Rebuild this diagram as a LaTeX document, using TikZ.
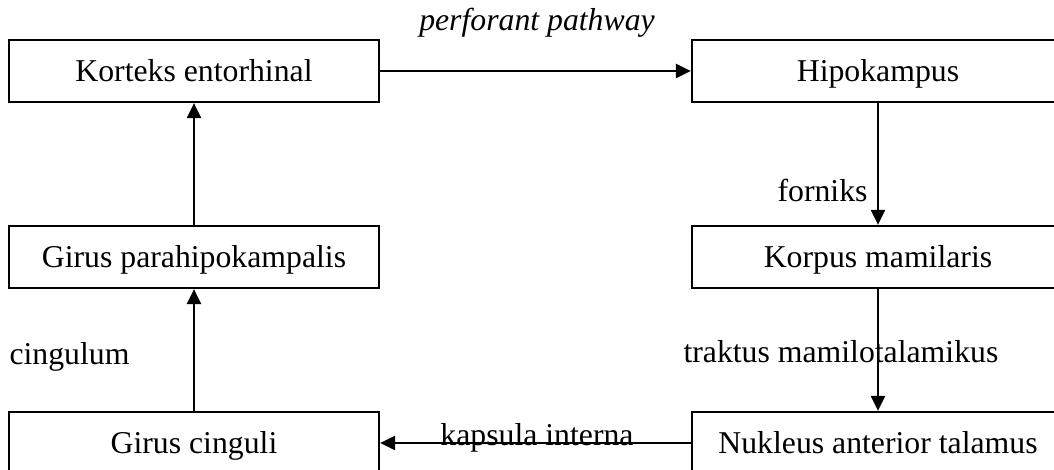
\documentclass[tikz,border=0pt]{standalone}
\usepackage{fontspec}
\setmainfont{Liberation Serif}
\usetikzlibrary{arrows.meta}

\begin{document}
\begin{tikzpicture}[x=0.4pt,y=-0.4pt,
    every node/.style={font=\fontsize{12.7}{15}\selectfont},
    box/.style={draw, line width=0.9pt, minimum height=24.8pt, inner sep=0pt,
        text height=8.4pt, text depth=0pt},
    link/.style={line width=0.9pt, -{Triangle[length=6pt,width=5.6pt]}},
    lbl/.style={inner sep=0pt}]
    \useasboundingbox (0,0) rectangle (1054,470);
    \clip (0,0) rectangle (1054,470);
    % left column
    \node[box, minimum width=148pt] (korteks) at (194,71) {Korteks entorhinal};
    \node[box, minimum width=148pt] (parahip) at (194,257) {Girus parahipokampalis};
    \node[box, minimum width=148pt] (cinguli) at (194,443) {Girus cinguli};
    % right column
    \node[box, minimum width=148.8pt] (hipo) at (878,71) {Hipokampus};
    \node[box, minimum width=148.8pt] (mamilaris) at (878,257) {Korpus mamilaris};
    \node[box, minimum width=148.8pt] (nukleus) at (878,443) {Nukleus anterior talamus};
    % connections
    \draw[link] (korteks) -- (hipo);
    \draw[link] (hipo) -- (mamilaris);
    \draw[link] (mamilaris) -- (nukleus);
    \draw[link] (nukleus) -- (cinguli);
    \draw[link] (cinguli) -- (parahip);
    \draw[link] (parahip) -- (korteks);
    % labels
    \node[lbl, anchor=base] (lperforant) at (537,31) {\itshape perforant pathway};
    \node[lbl, anchor=base east] (lforniks) at (868,202) {forniks};
    \node[lbl, anchor=base west] (ltraktus) at (683,363) {traktus mamilotalamikus};
    \node[lbl, anchor=base west] (lcingulum) at (9,365) {cingulum};
    \node[lbl, anchor=base] (lkapsula) at (537,446) {kapsula interna};
\end{tikzpicture}
\end{document}
